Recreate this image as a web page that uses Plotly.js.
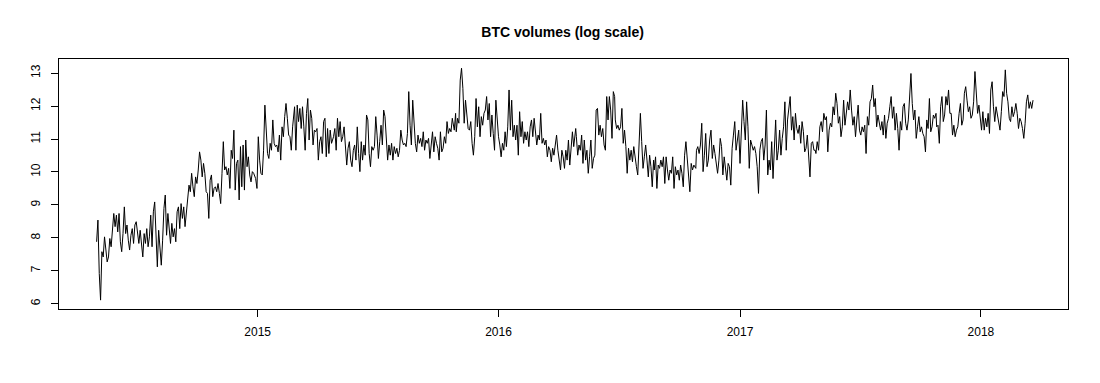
<!DOCTYPE html>
<html>
<head>
<meta charset="utf-8">
<script src="https://cdn.plot.ly/plotly-3.0.1.min.js"></script>
<style>
  html, body { margin: 0; padding: 0; background: #fff; }
  #plot { width: 1100px; height: 383px; }
</style>
</head>
<body>
<div id="plot"></div>
<script>
// log volumes, in eight stretches of roughly six months
const seg1 = [7.88, 8.54, 6.92, 6.11, 7.58, 7.42, 8.03, 7.63, 7.27, 7.42, 7.98, 7.73, 8.13, 8.74, 8.34, 8.69, 8.18, 8.74, 7.88, 7.58,
  8.13, 8.94, 8.13, 8.39, 7.93, 7.63, 8.08, 8.28, 7.83, 8.39, 8.49, 8.13, 7.83, 8.23, 7.88, 7.42, 8.13, 7.83, 8.28, 7.73,
  8.03, 8.69, 7.73, 8.79, 9.09, 8.13, 7.12, 8.23, 7.63, 7.17, 7.93, 8.89, 9.30, 8.08, 8.74, 8.34, 7.83, 8.44, 8.03, 8.28,
  7.88, 8.79, 8.94, 8.28, 9.04, 8.59, 8.94, 8.34, 8.79, 9.35, 9.60, 9.40, 9.96, 9.55, 9.25, 9.85, 9.65, 10.06, 10.61, 10.36,
  9.85, 10.26, 9.96, 9.40, 9.35, 8.59, 9.75, 9.91, 9.25, 9.50];
const seg2 = [9.55, 9.40, 9.65, 9.35, 9.04, 9.96, 10.92, 10.06, 10.16, 9.91, 10.11, 9.50, 10.66, 10.41, 11.27, 9.45, 10.26, 10.36, 9.15, 10.77,
  9.55, 10.82, 9.45, 10.97, 10.16, 10.46, 9.91, 9.70, 10.01, 9.96, 9.80, 9.50, 11.07, 10.36, 9.96, 9.91, 10.66, 12.03, 11.37, 10.56,
  10.41, 10.87, 10.66, 11.58, 10.87, 10.77, 10.82, 10.61, 11.12, 10.36, 11.37, 11.07, 11.68, 12.08, 11.63, 11.12, 11.07, 10.66, 11.37, 11.98,
  10.66, 12.03, 11.53, 11.93, 11.32, 11.98, 11.37, 10.66, 11.78, 12.23, 10.97, 11.88, 11.63, 10.82, 11.27, 11.22, 11.32, 10.36, 10.92, 11.07,
  10.56, 11.53, 11.63, 10.46, 11.32, 10.56, 11.27, 10.87, 11.07];
const seg3 = [11.32, 10.66, 11.63, 11.07, 11.53, 10.92, 11.07, 11.37, 10.77, 10.21, 10.72, 10.92, 10.36, 10.16, 10.66, 10.82, 10.36, 11.37, 10.56, 10.01,
  10.92, 10.36, 10.82, 10.51, 11.73, 11.58, 10.56, 10.16, 10.77, 10.66, 10.77, 11.68, 11.12, 10.41, 10.92, 11.42, 10.82, 11.88, 11.68, 11.02,
  10.36, 10.82, 10.51, 10.87, 10.36, 10.77, 10.56, 10.72, 10.46, 10.66, 11.27, 10.97, 10.82, 10.87, 10.77, 11.17, 12.44, 11.42, 10.82, 12.18,
  11.37, 10.87, 10.61, 11.12, 10.87, 11.02, 10.77, 11.22, 10.66, 10.97, 10.87, 11.02, 10.41, 10.77, 11.22, 10.61, 11.07, 10.87, 10.72, 10.36,
  11.22, 10.61, 10.72, 11.07, 10.87, 11.53, 11.17, 11.32, 11.22, 11.63, 11.27];
const seg4 = [11.78, 11.22, 11.63, 11.48, 12.79, 13.15, 12.54, 11.48, 12.18, 11.78, 11.32, 11.27, 11.53, 10.87, 10.51, 11.07, 12.23, 11.37, 11.98, 11.07,
  11.68, 11.42, 11.78, 11.88, 12.29, 11.58, 12.08, 11.07, 11.73, 11.17, 10.66, 12.18, 11.48, 11.07, 10.82, 10.46, 10.87, 10.66, 11.22, 10.77,
  11.37, 12.49, 11.27, 12.18, 11.07, 11.42, 10.97, 11.42, 10.51, 11.83, 11.07, 11.53, 10.87, 11.22, 10.97, 11.22, 10.77, 11.37, 11.58, 11.07,
  11.63, 11.17, 10.82, 11.12, 10.97, 11.78, 10.87, 11.02, 10.82, 10.97, 10.46, 10.77, 10.66, 10.31, 10.72, 10.51, 10.87, 11.12, 10.66, 10.36,
  10.06, 10.66, 10.46, 10.11, 10.66, 10.36, 10.97, 10.21, 10.72, 11.22, 10.77];
const seg5 = [11.32, 11.07, 10.51, 10.82, 10.66, 11.12, 10.26, 10.97, 10.36, 10.66, 9.96, 10.46, 10.97, 10.11, 10.41, 10.51, 11.88, 11.93, 11.12, 11.42,
  11.07, 11.32, 10.82, 10.66, 12.29, 11.58, 12.29, 11.88, 11.02, 12.44, 12.29, 11.58, 11.32, 11.42, 11.27, 11.37, 11.93, 10.87, 11.27, 10.77,
  9.96, 10.72, 10.36, 10.66, 10.31, 10.77, 10.41, 10.16, 9.91, 11.07, 11.78, 10.92, 10.11, 10.46, 10.82, 10.36, 9.85, 10.51, 10.16, 9.55,
  10.36, 10.06, 10.46, 9.50, 10.21, 10.11, 10.36, 10.16, 10.46, 9.65, 10.46, 10.06, 9.75, 10.06, 9.96, 10.46, 9.50, 10.16, 9.91, 10.06,
  9.75, 10.21, 9.96, 9.55, 10.51, 10.92, 10.36, 9.96, 9.40, 10.26, 10.06, 10.21];
const seg6 = [10.11, 10.66, 10.77, 10.56, 10.82, 11.48, 10.01, 10.51, 11.17, 10.16, 10.36, 10.97, 11.27, 10.41, 10.82, 10.56, 10.31, 9.96, 10.36, 11.02,
  10.77, 9.91, 10.46, 10.06, 9.75, 10.26, 10.16, 9.60, 10.72, 11.12, 11.53, 10.66, 11.02, 11.27, 10.26, 11.37, 12.18, 11.53, 10.97, 12.13,
  11.37, 10.11, 10.97, 10.82, 10.66, 10.77, 10.56, 10.16, 9.35, 10.66, 10.92, 11.02, 10.36, 10.82, 11.88, 9.91, 10.36, 10.06, 10.92, 9.80,
  10.66, 11.58, 10.36, 10.66, 11.27, 10.51, 11.02, 11.37, 12.13, 10.66, 11.58, 11.88, 12.29, 11.27, 11.68, 10.97, 11.78, 11.32, 11.17, 11.42,
  10.87, 11.53, 11.22, 10.61, 10.72, 11.12, 10.26, 9.85, 10.87, 10.92, 10.66];
const seg7 = [10.66, 10.56, 10.92, 10.66, 11.37, 11.53, 11.22, 11.78, 11.58, 11.68, 10.61, 11.27, 11.48, 11.37, 11.98, 11.73, 12.39, 12.08, 11.48, 11.68,
  11.07, 11.37, 12.18, 11.42, 11.83, 12.13, 11.88, 12.49, 11.88, 11.42, 11.68, 11.07, 11.58, 12.03, 11.27, 11.12, 11.37, 11.22, 11.42, 10.56,
  11.68, 11.42, 12.13, 12.23, 12.64, 11.98, 12.23, 11.37, 11.73, 11.48, 11.27, 11.53, 11.12, 11.73, 11.02, 11.48, 11.63, 11.98, 12.29, 11.63,
  11.98, 11.27, 11.78, 11.32, 10.66, 11.53, 11.27, 11.98, 12.08, 11.48, 11.27, 11.58, 12.39, 12.99, 12.08, 11.58, 11.88, 11.02, 11.37, 11.68,
  11.22, 11.37, 11.17, 11.07, 10.61, 11.58, 11.32, 12.23, 11.22, 11.37, 11.73, 11.63];
const seg8 = [11.78, 11.37, 11.42, 10.87, 11.98, 12.29, 11.53, 11.73, 12.29, 12.03, 12.49, 11.78, 11.78, 11.12, 11.42, 11.07, 11.27, 11.37, 11.78, 12.08,
  11.42, 11.58, 12.39, 12.59, 12.18, 11.83, 11.98, 11.63, 11.73, 12.13, 13.05, 12.23, 11.78, 12.03, 11.63, 11.27, 11.83, 11.27, 11.63, 11.37,
  11.78, 11.17, 12.49, 12.74, 11.98, 11.53, 11.98, 11.73, 11.42, 11.27, 11.83, 12.44, 12.29, 13.10, 12.39, 12.13, 11.63, 11.53, 11.98, 11.68,
  11.83, 12.08, 11.78, 11.32, 11.63, 11.53, 11.32, 11.02, 11.48, 12.13, 12.34, 11.93, 12.13, 11.93, 12.18];

const segments = [seg1, seg2, seg3, seg4, seg5, seg6, seg7, seg8];
const segStarts = ['2014-05-02', '2014-10-29', '2015-04-28', '2015-10-28', '2016-04-27', '2016-10-26', '2017-04-25', '2017-10-25'];
const segEnds = ['2014-10-27', '2015-04-26', '2015-10-26', '2016-04-24', '2016-10-23', '2017-04-23', '2017-10-23', '2018-03-21'];

const yearTicks = ['2015-01-01', '2016-01-01', '2017-01-01', '2018-01-01'];
const yearLabels = ['2015', '2016', '2017', '2018'];
const logTicks = [6, 7, 8, 9, 10, 11, 12, 13];

// spread each stretch's readings evenly between its first and last day
const dates = [];
const vols = [];
segments.forEach(function(seg, k) {
    const t0 = Date.parse(segStarts[k]);
    const t1 = Date.parse(segEnds[k]);
    seg.forEach(function(v, i) {
        const t = t0 + (t1 - t0) * i / (seg.length - 1);
        dates.push(new Date(t).toISOString().slice(0, 10));
        vols.push(v);
    });
});

const trace = {
    x: dates,
    y: vols,
    mode: 'lines',
    line: { color: 'black', width: 1 },
    hoverinfo: 'skip'
};

const axisFont = { family: 'Liberation Sans, Arial, sans-serif', size: 12, color: 'black' };

const layout = {
    width: 1100,
    height: 383,
    margin: { l: 59, r: 32, t: 59, b: 74 },
    paper_bgcolor: 'white',
    plot_bgcolor: 'white',
    showlegend: false,
    title: {
        text: '<b>BTC volumes (log scale)</b>',
        font: { family: 'Liberation Sans, Arial, sans-serif', size: 14, color: 'black' },
        x: 0.5115,
        xanchor: 'center',
        y: 0.917,
        yanchor: 'middle'
    },
    xaxis: {
        type: 'date',
        range: ['2014-03-06', '2018-05-13'],
        tickvals: yearTicks,
        ticktext: yearLabels,
        ticks: 'outside',
        ticklen: 7,
        tickcolor: 'black',
        ticklabelstandoff: 5,
        showgrid: false,
        zeroline: false,
        showline: true,
        mirror: true,
        linecolor: 'black',
        linewidth: 1,
        tickfont: axisFont
    },
    yaxis: {
        range: [5.84, 13.43],
        tickvals: logTicks,
        ticktext: logTicks.map(String),
        tickangle: -90,
        ticks: 'outside',
        ticklen: 7,
        tickcolor: 'black',
        ticklabelstandoff: 6,
        showgrid: false,
        zeroline: false,
        showline: true,
        mirror: true,
        linecolor: 'black',
        linewidth: 1,
        tickfont: axisFont
    }
};

Plotly.newPlot('plot', [trace], layout, { staticPlot: true, displayModeBar: false });
</script>
</body>
</html>
